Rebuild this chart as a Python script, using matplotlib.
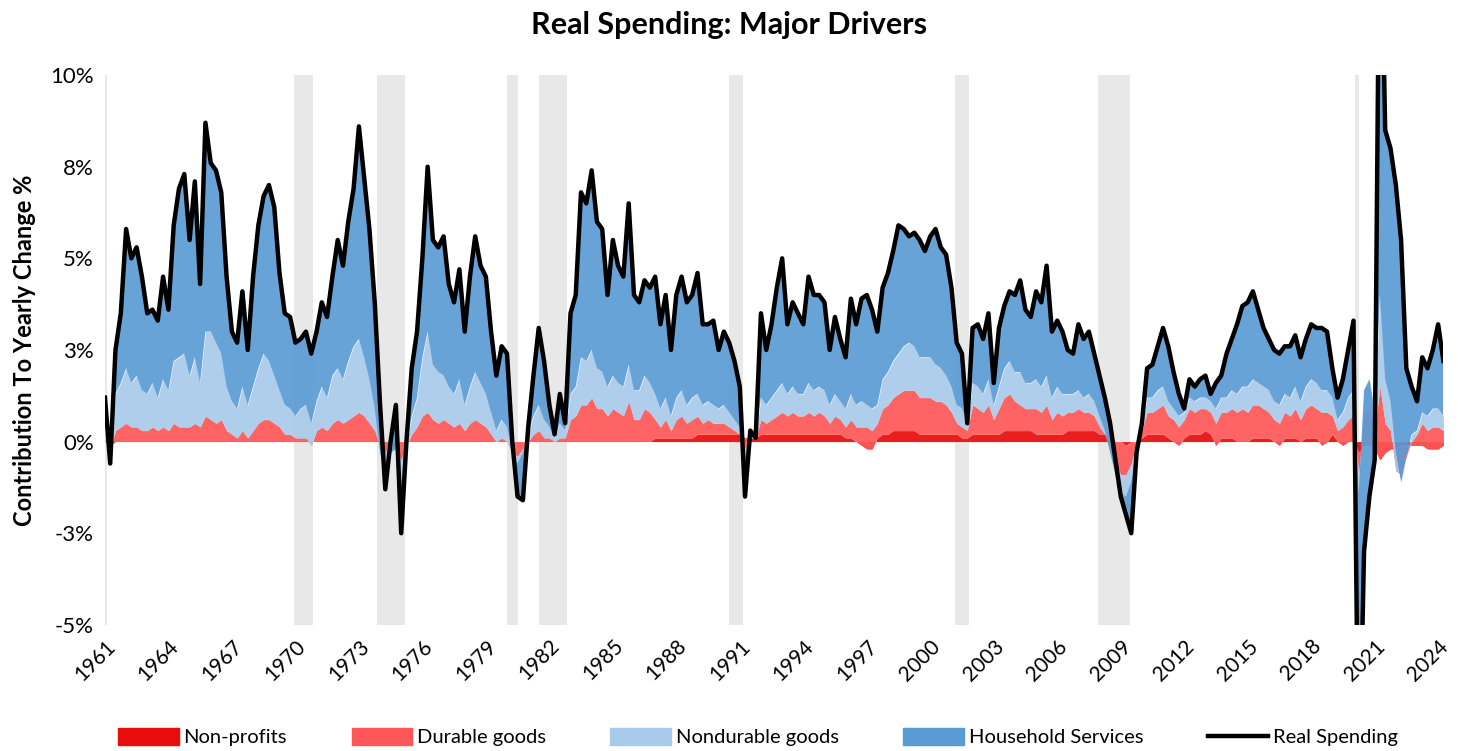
import numpy as np
import pandas as pd
import matplotlib
matplotlib.use("Agg")
import matplotlib.pyplot as plt
from matplotlib.patches import Patch
from matplotlib.lines import Line2D

plt.rcParams["font.family"] = ["Lato", "DejaVu Sans"]

# Quarterly contributions to the yearly change in real spending, 1961Q1 - 2024Q2 (%)
real_spending = [
    1.2, -0.6, 2.5, 3.5,    5.8, 5.0, 5.3, 4.5,    3.5, 3.6, 3.3, 4.5,    3.6, 5.9, 6.9, 7.3,
    5.5, 7.1, 4.3, 8.7,     7.6, 7.4, 6.8, 4.5,    3.0, 2.7, 4.1, 2.5,    4.5, 5.9, 6.7, 7.0,
    6.4, 4.6, 3.5, 3.4,     2.7, 2.8, 3.0, 2.4,    3.0, 3.8, 3.4, 4.5,    5.5, 4.8, 6.0, 6.9,
    8.6, 7.2, 5.8, 3.8,     1.0, -1.3, 0.0, 1.0,   -2.5, 0.0, 2.0, 3.0,   5.0, 7.5, 5.5, 5.3,
    5.6, 4.3, 3.8, 4.7,     3.0, 4.5, 5.6, 4.8,    4.5, 3.0, 1.8, 2.6,    2.4, 0.0, -1.5, -1.6,
    0.4, 1.8, 3.1, 2.2,     1.0, 0.2, 1.3, 0.5,    3.5, 4.0, 6.8, 6.5,    7.4, 6.0, 5.8, 4.0,
    5.5, 4.8, 4.5, 6.5,     4.0, 3.8, 4.4, 4.2,    4.5, 3.2, 4.0, 2.5,    4.0, 4.5, 3.8, 4.0,
    4.6, 3.2, 3.2, 3.3,     2.5, 3.0, 2.7, 2.2,    1.5, -1.5, 0.3, 0.1,   3.5, 2.5, 3.2, 4.2,
    5.0, 3.2, 3.8, 3.5,     3.2, 4.5, 4.0, 4.0,    3.8, 2.5, 3.4, 2.8,    2.3, 3.9, 3.2, 3.9,
    4.0, 3.6, 3.0, 4.2,     4.6, 5.2, 5.9, 5.8,    5.6, 5.7, 5.5, 5.2,    5.6, 5.8, 5.3, 5.1,
    4.2, 2.7, 2.4, 0.5,     3.1, 3.2, 2.8, 3.5,    1.6, 3.1, 3.7, 4.1,    4.0, 4.4, 3.6, 3.4,
    4.1, 3.8, 4.8, 3.0,     3.3, 3.0, 2.5, 2.4,    3.2, 2.8, 3.0, 2.4,    1.8, 1.2, 0.5, -0.5,
    -1.5, -2.0, -2.5, -0.3, 0.5, 2.0, 2.1, 2.6,    3.1, 2.6, 1.9, 1.3,    0.9, 1.7, 1.5, 1.7,
    1.8, 1.3, 1.6, 1.8,     2.4, 2.8, 3.2, 3.7,    3.8, 4.1, 3.6, 3.1,    2.8, 2.5, 2.4, 2.6,
    2.6, 2.9, 2.3, 2.8,     3.2, 3.1, 3.1, 3.0,    2.0, 1.2, 1.7, 2.5,    3.3, -10.0, -3.0, -1.5,
    -0.5, 16.0, 8.5, 8.0,   7.0, 5.5, 2.0, 1.5,    1.1, 2.3, 2.0, 2.5,    3.2, 2.2,
]

non_profits = [
    0.0, -0.1, 0.0, 0.0,    0.0, 0.0, 0.0, 0.0,    0.0, 0.0, 0.0, 0.0,    0.0, 0.0, 0.0, 0.0,
    0.0, 0.0, 0.0, 0.0,     0.0, 0.0, 0.0, 0.0,    0.0, 0.0, 0.0, 0.0,    0.0, 0.0, 0.0, 0.0,
    0.0, 0.0, 0.0, 0.0,     0.0, 0.0, 0.0, 0.0,    0.0, 0.0, 0.0, 0.0,    0.0, 0.0, 0.0, 0.0,
    0.0, 0.0, 0.0, 0.0,     0.0, 0.0, 0.0, 0.0,    0.0, 0.0, 0.0, 0.0,    0.0, 0.0, 0.0, 0.0,
    0.0, 0.0, 0.0, 0.0,     0.0, 0.0, 0.0, 0.0,    0.0, 0.0, 0.0, 0.0,    0.0, 0.0, 0.0, 0.0,
    0.0, 0.0, 0.0, 0.0,     0.0, 0.0, 0.0, 0.0,    0.0, 0.0, 0.0, 0.0,    0.0, 0.0, 0.0, 0.0,
    0.0, 0.0, 0.0, 0.0,     0.0, 0.0, 0.0, 0.0,    0.1, 0.1, 0.1, 0.1,    0.1, 0.1, 0.1, 0.1,
    0.2, 0.2, 0.2, 0.2,     0.2, 0.2, 0.2, 0.2,    0.2, 0.1, 0.1, 0.1,    0.2, 0.2, 0.2, 0.2,
    0.2, 0.2, 0.2, 0.2,     0.2, 0.2, 0.2, 0.2,    0.2, 0.2, 0.2, 0.2,    0.1, 0.1, 0.0, -0.1,
    -0.2, -0.2, 0.1, 0.2,   0.2, 0.3, 0.3, 0.3,    0.3, 0.3, 0.2, 0.2,    0.2, 0.2, 0.2, 0.2,
    0.2, 0.2, 0.1, 0.1,     0.2, 0.2, 0.2, 0.2,    0.2, 0.2, 0.3, 0.3,    0.3, 0.3, 0.3, 0.3,
    0.2, 0.2, 0.2, 0.2,     0.2, 0.2, 0.3, 0.3,    0.3, 0.3, 0.3, 0.3,    0.2, 0.2, 0.1, 0.0,
    0.0, -0.1, 0.0, 0.0,    0.1, 0.2, 0.2, 0.2,    0.2, 0.1, 0.0, -0.1,   0.1, 0.2, 0.2, 0.2,
    0.3, 0.2, -0.1, 0.1,    0.1, 0.1, 0.0, 0.0,    0.0, 0.1, 0.1, 0.1,    0.1, 0.0, -0.1, 0.1,
    0.1, 0.1, 0.0, 0.1,     0.1, 0.1, -0.1, 0.0,   0.2, 0.0, -0.1, 0.0,   0.0, -0.3, -0.1, -0.1,
    -0.2, -0.5, -0.3, -0.2, -0.2, -0.1, -0.1, -0.1, -0.1, -0.1, -0.2, -0.2, -0.2, -0.1,
]

durable_goods = [
    0.1, -0.1, 0.3, 0.4,    0.5, 0.4, 0.4, 0.3,    0.3, 0.4, 0.3, 0.4,    0.3, 0.5, 0.4, 0.4,
    0.4, 0.5, 0.4, 0.7,     0.6, 0.5, 0.6, 0.3,    0.2, 0.1, 0.3, 0.1,    0.3, 0.5, 0.6, 0.6,
    0.5, 0.4, 0.2, 0.2,     0.1, 0.1, 0.1, -0.1,   0.3, 0.4, 0.3, 0.5,    0.6, 0.5, 0.6, 0.7,
    0.8, 0.7, 0.5, 0.3,     -0.1, -0.3, 0.0, -0.2, -0.5, -0.1, 0.2, 0.4,  0.7, 0.8, 0.6, 0.5,
    0.6, 0.5, 0.4, 0.5,     0.3, 0.5, 0.6, 0.5,    0.4, 0.2, 0.0, 0.1,    0.0, -0.3, -0.4, -0.2,
    0.0, 0.2, 0.3, 0.1,     0.1, 0.0, 0.1, 0.1,    0.6, 0.7, 1.0, 1.0,    1.2, 0.9, 0.9, 0.7,
    0.9, 0.8, 0.7, 1.1,     0.6, 0.6, 0.9, 0.8,    0.5, 0.3, 0.5, 0.2,    0.5, 0.6, 0.4, 0.5,
    0.5, 0.3, 0.4, 0.3,     0.3, 0.3, 0.2, 0.1,    0.0, -0.3, 0.0, 0.0,   0.4, 0.3, 0.4, 0.5,
    0.6, 0.5, 0.6, 0.5,     0.5, 0.6, 0.5, 0.6,    0.5, 0.3, 0.5, 0.4,    0.3, 0.5, 0.4, 0.5,
    0.6, 0.5, 0.4, 0.7,     0.8, 0.9, 1.0, 1.1,    1.1, 1.1, 1.0, 1.0,    1.0, 0.9, 0.9, 0.8,
    0.6, 0.3, 0.3, 0.2,     0.8, 0.7, 0.6, 0.8,    0.4, 0.7, 0.9, 1.0,    0.8, 0.7, 0.6, 0.6,
    0.7, 0.6, 0.8, 0.4,     0.6, 0.5, 0.5, 0.5,    0.6, 0.5, 0.5, 0.4,    0.2, 0.0, -0.3, -0.6,
    -0.9, -0.8, -0.6, -0.1, 0.2, 0.6, 0.6, 0.7,    0.8, 0.6, 0.6, 0.5,    0.5, 0.7, 0.6, 0.7,
    0.6, 0.6, 0.6, 0.7,     0.7, 0.8, 0.8, 0.9,    0.8, 0.9, 0.9, 0.8,    0.7, 0.6, 0.6, 0.7,
    0.6, 0.8, 0.6, 0.8,     0.9, 0.8, 0.9, 0.8,    0.5, 0.3, 0.5, 0.6,    0.7, -0.6, 0.9, 1.0,
    0.5, 2.0, 0.8, 0.5,     -0.6, -0.8, -0.3, 0.1, 0.3, 0.6, 0.5, 0.6,    0.6, 0.4,
]

nondurable_goods = [
    0.6, 0.2, 1.0, 1.2,     1.5, 1.2, 1.4, 1.1,    1.0, 1.2, 0.9, 1.3,    1.1, 1.7, 1.9, 2.0,
    1.4, 1.8, 1.2, 2.3,     2.4, 2.2, 1.8, 1.2,    0.9, 0.8, 1.2, 0.9,    1.2, 1.5, 1.8, 1.6,
    1.3, 1.0, 0.8, 0.7,     0.6, 0.8, 0.9, 0.6,    0.8, 1.1, 0.9, 1.3,    1.4, 1.2, 1.6, 1.9,
    2.0, 1.6, 1.2, 0.6,     -0.2, -0.6, -0.3, 0.0, -0.6, 0.0, 0.5, 0.8,  1.6, 2.2, 1.5, 1.4,
    1.2, 1.0, 0.9, 1.2,     0.7, 1.0, 1.3, 1.1,    0.9, 0.6, 0.3, 0.5,    0.4, 0.0, -0.2, -0.1,
    0.2, 0.5, 0.7, 0.5,     0.3, 0.1, 0.4, 0.2,    0.7, 0.8, 1.3, 1.2,    1.3, 1.1, 1.0, 0.8,
    0.9, 0.8, 0.8, 1.0,     0.8, 0.8, 0.9, 0.8,    0.7, 0.5, 0.6, 0.4,    0.6, 0.7, 0.5, 0.6,
    0.6, 0.5, 0.5, 0.5,     0.4, 0.5, 0.4, 0.3,    0.2, -0.2, 0.1, 0.0,   0.6, 0.5, 0.6, 0.7,
    0.8, 0.6, 0.7, 0.6,     0.6, 0.8, 0.7, 0.7,    0.7, 0.5, 0.6, 0.5,    0.5, 0.7, 0.6, 0.7,
    0.6, 0.6, 0.5, 0.8,     0.9, 1.0, 1.1, 1.2,    1.3, 1.2, 1.1, 1.1,    1.1, 1.0, 0.9, 0.8,
    0.7, 0.5, 0.5, 0.2,     0.6, 0.6, 0.5, 0.7,    0.4, 0.6, 0.8, 0.9,    0.8, 0.9, 0.7, 0.7,
    0.8, 0.7, 0.8, 0.6,     0.7, 0.6, 0.5, 0.5,    0.5, 0.4, 0.5, 0.4,    0.3, 0.1, -0.1, -0.3,
    -0.5, -0.6, -0.5, -0.1, 0.1, 0.4, 0.4, 0.5,    0.5, 0.4, 0.3, 0.3,    0.2, 0.3, 0.3, 0.3,
    0.3, 0.3, 0.4, 0.4,     0.4, 0.5, 0.5, 0.6,    0.7, 0.7, 0.6, 0.6,    0.6, 0.5, 0.5, 0.5,
    0.5, 0.6, 0.5, 0.6,     0.7, 0.7, 0.6, 0.6,    0.5, 0.3, 0.4, 0.6,    0.7, -0.5, 0.6, 0.8,
    0.5, 2.5, 1.2, 0.8,     0.5, -0.2, 0.0, 0.2,   0.1, 0.3, 0.4, 0.5,    0.5, 0.4,
]

household_services = [
    0.5, -0.6, 1.2, 1.9,    3.8, 3.4, 3.5, 3.1,    2.2, 2.0, 2.1, 2.8,    2.2, 3.7, 4.6, 4.9,
    3.7, 4.8, 2.7, 5.7,     4.6, 4.7, 4.4, 3.0,    1.9, 1.8, 2.6, 1.5,    3.0, 3.9, 4.3, 4.8,
    4.6, 3.2, 2.5, 2.5,     2.0, 1.9, 2.0, 1.9,    1.9, 2.3, 2.2, 2.7,    3.5, 3.1, 3.8, 4.3,
    5.8, 4.9, 4.1, 2.9,     1.3, -0.4, 0.3, 1.2,   -1.4, 0.1, 1.3, 1.8,   2.7, 4.5, 3.4, 3.4,
    3.8, 2.8, 2.5, 3.0,     2.0, 3.0, 3.7, 3.2,    3.2, 2.2, 1.5, 2.0,    2.0, 0.3, -0.9, -1.3,
    0.2, 1.1, 2.1, 1.6,     0.6, 0.1, 0.8, 0.2,    2.2, 2.5, 4.5, 4.3,    4.9, 4.0, 3.9, 2.5,
    3.7, 3.2, 3.0, 4.4,     2.6, 2.4, 2.6, 2.6,    3.2, 2.3, 2.8, 1.8,    2.8, 3.1, 2.8, 2.8,
    3.3, 2.2, 2.1, 2.3,     1.6, 2.0, 1.9, 1.6,    1.1, -1.1, 0.1, 0.0,   2.3, 1.5, 2.0, 2.8,
    3.4, 1.9, 2.3, 2.2,     1.9, 2.9, 2.6, 2.5,    2.4, 1.5, 2.1, 1.7,    1.4, 2.6, 2.2, 2.8,
    3.0, 2.7, 2.0, 2.5,     2.7, 3.0, 3.5, 3.2,    2.9, 3.1, 3.2, 2.9,    3.3, 3.7, 3.3, 3.3,
    2.7, 1.7, 1.5, 0.0,     1.5, 1.7, 1.5, 1.8,    0.6, 1.6, 1.7, 1.9,    2.1, 2.5, 2.0, 1.8,
    2.4, 2.3, 3.0, 1.8,     1.8, 1.7, 1.2, 1.1,    1.8, 1.6, 1.7, 1.3,    1.1, 0.9, 0.8, 0.4,
    -0.1, -0.5, -1.4, -0.1, 0.1, 0.8, 0.9, 1.2,    1.6, 1.5, 1.0, 0.6,    0.1, 0.5, 0.4, 0.5,
    0.6, 0.2, 0.7, 0.6,     1.2, 1.4, 1.9, 2.2,    2.3, 2.4, 2.0, 1.6,    1.4, 1.4, 1.4, 1.3,
    1.4, 1.4, 1.2, 1.3,     1.5, 1.5, 1.7, 1.6,    0.8, 0.6, 0.9, 1.3,    1.9, -8.6, -4.4, -3.2,
    -1.3, 12.0, 6.8, 6.9,   7.3, 6.6, 2.4, 1.3,    0.8, 1.5, 1.3, 1.6,    2.3, 1.5,
]

series_names = ["Non-profits", "Durable goods", "Nondurable goods", "Household Services"]
series_colors = ["#E80C0C", "#FF5757", "#A7CAEA", "#5B9BD5"]

recessions = [
    ("1960-04-01", "1961-02-01"), ("1969-12-01", "1970-11-01"), ("1973-11-01", "1975-03-01"),
    ("1980-01-01", "1980-07-01"), ("1981-07-01", "1982-11-01"), ("1990-07-01", "1991-03-01"),
    ("2001-03-01", "2001-11-01"), ("2007-12-01", "2009-06-01"), ("2020-02-01", "2020-04-01"),
]

tick_years = list(range(1961, 2025, 3))
y_ticks = [10, 7.5, 5, 2.5, 0, -2.5, -5]
y_tick_labels = ["10%", "8%", "5%", "3%", "0%", "-3%", "-5%"]

dates = pd.date_range("1961-01-01", periods=len(real_spending), freq="QS")
layers = np.array([non_profits, durable_goods, nondurable_goods, household_services])
tops = layers.cumsum(axis=0)

fig = plt.figure(figsize=(14.58, 7.51), dpi=100)
ax = fig.add_axes([0.072, 0.168, 0.918, 0.732])

for start, end in recessions:
    ax.axvspan(pd.Timestamp(start), pd.Timestamp(end), color="#E8E8E8", lw=0, zorder=0)

bottom = np.zeros(len(dates))
for top, color in zip(tops, series_colors):
    ax.fill_between(dates, bottom, top, color=color, lw=0, alpha=0.92, zorder=1)
    bottom = top

ax.plot(dates, real_spending, color="black", lw=3.2, zorder=3)

ax.set_xlim(dates[0], dates[-1])
ax.set_ylim(-5, 10)
ax.set_yticks(y_ticks)
ax.set_yticklabels(y_tick_labels, fontsize=16)
ax.set_xticks([pd.Timestamp(f"{y}-01-01") for y in tick_years])
ax.set_xticklabels([str(y) for y in tick_years], fontsize=15, rotation=45,
                   ha="right", rotation_mode="anchor")
ax.tick_params(length=0, pad=8)
for s in ax.spines.values():
    s.set_visible(False)

ax.set_ylabel("Contribution To Yearly Change %", fontsize=17, fontweight="bold", labelpad=10)
fig.suptitle("Real Spending: Major Drivers", fontsize=22, fontweight="bold", y=0.985)

handles = [Patch(color=c, label=n) for n, c in zip(series_names, series_colors)]
handles.append(Line2D([], [], color="black", lw=3.2, label="Real Spending"))
fig.legend(handles=handles, loc="lower center", ncol=5, frameon=False, fontsize=14.5,
           bbox_to_anchor=(0.52, -0.018), handlelength=3.0, handleheight=0.9,
           columnspacing=3.2, handletextpad=0.25)

fig.savefig("out.png", dpi=100)
